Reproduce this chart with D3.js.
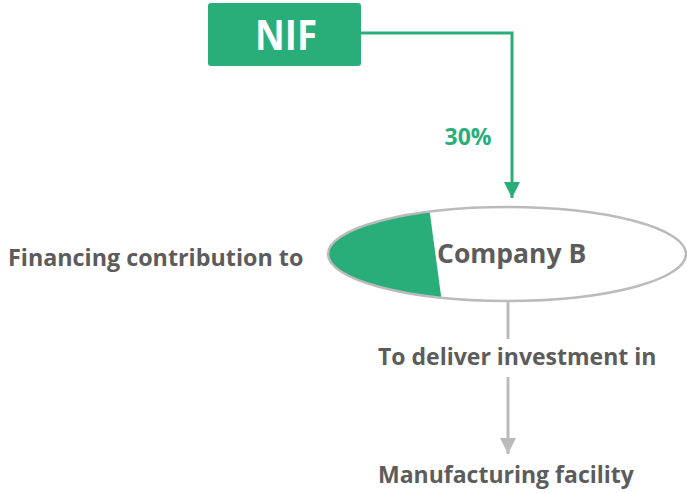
<!DOCTYPE html>
<html>
<head>
<meta charset="utf-8">
<script src="https://cdn.jsdelivr.net/npm/d3@7"></script>
<style>
  body { margin: 0; background: #fff; }
  text { font-family: "Open Sans", "Noto Sans", sans-serif; font-weight: 700; }
</style>
</head>
<body>
<div id="main"></div>
<script>
// data
const source = ["NIF"];
const target = ["Company B"];
const shares = [0.30];
const shareLabels = ["30%"];
const sideLabels = ["Financing contribution to"];
const flowLabels = ["To deliver investment in", "Manufacturing facility"];

const width = 687, height = 493;
const green = "#29ae7a", grey = "#bbbbbb", textGrey = "#5c5c5c";

const svg = d3.select("#main").append("svg")
    .attr("width", width)
    .attr("height", height);

const defs = svg.append("defs");
defs.append("marker").attr("id", "headG")
    .attr("viewBox", "0 0 10 10").attr("refX", 10).attr("refY", 5)
    .attr("markerWidth", 5.5).attr("markerHeight", 5.5).attr("markerUnits", "strokeWidth")
    .attr("orient", "auto")
    .append("path").attr("d", "M0,0L10,5L0,10Z").attr("fill", green);
defs.append("marker").attr("id", "headY")
    .attr("viewBox", "0 0 10 10").attr("refX", 10).attr("refY", 5)
    .attr("markerWidth", 5.5).attr("markerHeight", 5.5).attr("markerUnits", "strokeWidth")
    .attr("orient", "auto")
    .append("path").attr("d", "M0,0L10,5L0,10Z").attr("fill", grey);

// ellipse
const ell = {cx: 507, cy: 254, rx: 179, ry: 47};
const x = d3.scaleLinear().domain([0, 1]).range([ell.cx - ell.rx, ell.cx + ell.rx]);

// source box
svg.append("rect")
    .attr("x", 208).attr("y", 3).attr("width", 153).attr("height", 63)
    .attr("rx", 3).attr("fill", green);
svg.append("text")
    .attr("x", 286).attr("y", 50)
    .attr("text-anchor", "middle")
    .attr("fill", "#fff")
    .attr("font-size", 42)
    .attr("textLength", 62)
    .attr("lengthAdjust", "spacingAndGlyphs")
    .text(source[0]);

// green connector
const line = d3.line();
svg.append("path")
    .attr("d", line([[361, 33], [512, 33], [512, 198]]))
    .attr("fill", "none")
    .attr("stroke", green)
    .attr("stroke-width", 3)
    .attr("marker-end", "url(#headG)");

svg.append("text")
    .attr("x", 468).attr("y", 145)
    .attr("text-anchor", "middle")
    .attr("fill", green)
    .attr("font-size", 23)
    .text(shareLabels[0]);

// share fill, clipped to ellipse
defs.append("clipPath").attr("id", "ellClip")
    .append("ellipse")
    .attr("cx", ell.cx).attr("cy", ell.cy).attr("rx", ell.rx).attr("ry", ell.ry);

svg.append("g").attr("clip-path", "url(#ellClip)")
    .selectAll("path")
    .data(shares)
    .join("path")
    .attr("d", d => line([
        [x(0) - 5, ell.cy - ell.ry - 5],
        [x(d) - 7, ell.cy - ell.ry - 5],
        [x(d) + 7, ell.cy + ell.ry + 5],
        [x(0) - 5, ell.cy + ell.ry + 5]
    ]) + "Z")
    .attr("fill", green);

svg.append("ellipse")
    .attr("cx", ell.cx).attr("cy", ell.cy).attr("rx", ell.rx).attr("ry", ell.ry)
    .attr("fill", "none")
    .attr("stroke", grey)
    .attr("stroke-width", 2.5);

svg.append("text")
    .attr("x", 437).attr("y", 263)
    .attr("fill", textGrey)
    .attr("font-size", 26.5)
    .text(target[0]);

svg.append("text")
    .attr("x", 8).attr("y", 266)
    .attr("fill", textGrey)
    .attr("font-size", 23.3)
    .text(sideLabels[0]);

// grey flow
svg.append("line")
    .attr("x1", 508).attr("y1", 302).attr("x2", 508).attr("y2", 339)
    .attr("stroke", grey).attr("stroke-width", 3);
svg.append("path")
    .attr("d", line([[508, 377], [508, 454]]))
    .attr("stroke", grey).attr("stroke-width", 3)
    .attr("marker-end", "url(#headY)");

svg.selectAll("text.flow")
    .data(flowLabels)
    .join("text")
    .attr("class", "flow")
    .attr("x", 378)
    .attr("y", (d, i) => i === 0 ? 365 : 483)
    .attr("fill", textGrey)
    .attr("font-size", 23)
    .text(d => d);
</script>
</body>
</html>
